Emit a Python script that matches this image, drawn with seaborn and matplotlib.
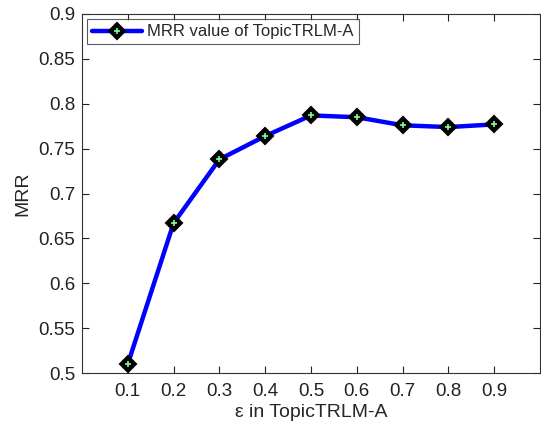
import numpy as np
import pandas as pd
import seaborn as sns
import matplotlib.pyplot as plt
from matplotlib.legend_handler import HandlerTuple

eps = [0.1, 0.2, 0.3, 0.4, 0.5, 0.6, 0.7, 0.8, 0.9]
mrr = [0.510, 0.667, 0.738, 0.764, 0.787, 0.785, 0.776, 0.774, 0.777]
yticks = [0.5, 0.55, 0.6, 0.65, 0.7, 0.75, 0.8, 0.85, 0.9]
ytick_labels = ['0.5', '0.55', '0.6', '0.65', '0.7', '0.75', '0.8', '0.85', '0.9']

df = pd.DataFrame({'eps': eps, 'MRR': mrr})

sns.set_style('white')
plt.rcParams['font.family'] = ['Liberation Sans', 'DejaVu Sans']

fig = plt.figure(figsize=(5.41, 4.26), dpi=100)
ax = fig.add_axes([82 / 541, 1 - 373 / 426, 458 / 541, 359 / 426])

sns.lineplot(data=df, x='eps', y='MRR', ax=ax, color='#0000ff', linewidth=3.2,
             marker='D', markersize=8, markerfacecolor='black',
             markeredgecolor='black', markeredgewidth=1.5)
plus, = ax.plot(eps, mrr, linestyle='none', marker='+', markersize=4,
                markeredgecolor='#7dffa0', markeredgewidth=1.2, zorder=5)

ax.set_xlim(0, 1)
ax.set_ylim(0.5, 0.9)
ax.set_xticks(eps)
ax.set_xticklabels([str(e) for e in eps])
ax.set_yticks(yticks)
ax.set_yticklabels(ytick_labels)
ax.tick_params(direction='in', length=5, width=0.8, top=True, right=True,
               bottom=True, left=True, labelsize=13.5, colors='#222222', pad=5)
ax.tick_params(axis='x', pad=7)
for s in ax.spines.values():
    s.set_color('#333333')
    s.set_linewidth(0.8)

ax.set_xlabel('ε in TopicTRLM-A', fontsize=14, labelpad=3)
ax.set_ylabel('MRR', fontsize=14, labelpad=5)

line = ax.get_lines()[0]
leg = ax.legend([(line, plus)], ['MRR value of TopicTRLM-A'],
                handler_map={tuple: HandlerTuple(ndivide=1, pad=0)},
                loc='upper left', bbox_to_anchor=(0.012, 0.985),
                fontsize=12, frameon=True, fancybox=False, borderpad=0.3,
                handlelength=3.0, handletextpad=0.3, borderaxespad=0)
leg.get_frame().set_edgecolor('#333333')
leg.get_frame().set_linewidth(0.8)

fig.savefig('out.png', dpi=100)
